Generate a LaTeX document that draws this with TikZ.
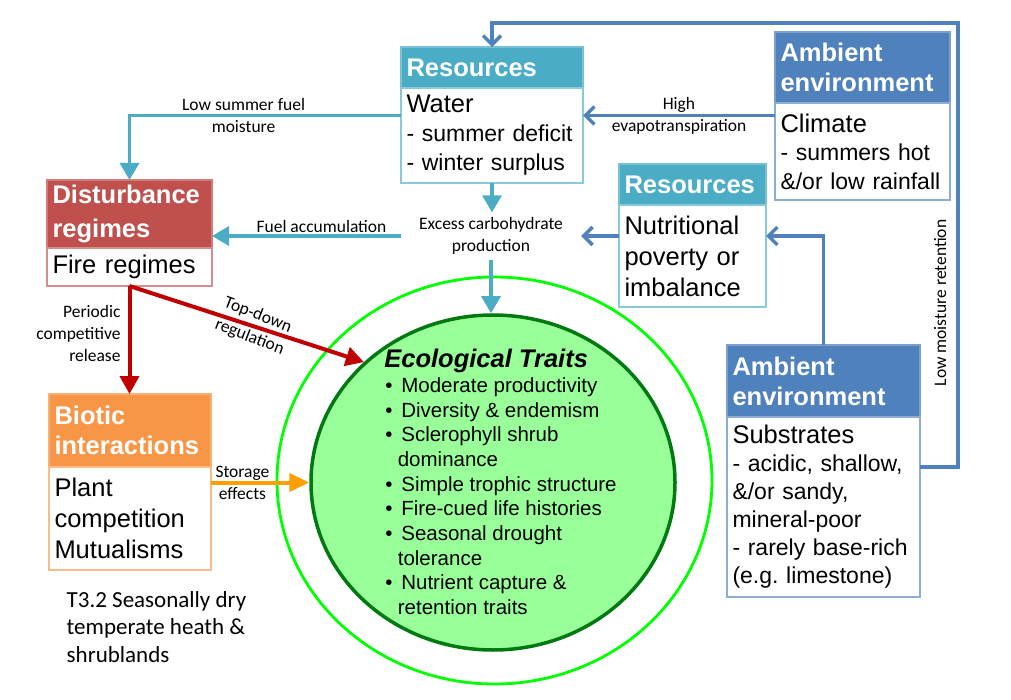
\documentclass[tikz,border=0pt]{standalone}
\usepackage{fontspec}
\setmainfont{Liberation Sans}
\newfontfamily\lblfont{Carlito}
\usetikzlibrary{arrows.meta,positioning,shapes.geometric}
\definecolor{resteal}{HTML}{4BACC6}
\definecolor{ambblue}{HTML}{4F81BD}
\definecolor{disred}{HTML}{C0504D}
\definecolor{bioorange}{HTML}{F79646}
\definecolor{arrred}{HTML}{C00000}
\definecolor{arrorange}{HTML}{FF9E00}
\definecolor{ringlime}{HTML}{00FF00}
\definecolor{traitgreen}{HTML}{99FF99}
\definecolor{traitedge}{HTML}{007A10}

\begin{document}
\begin{tikzpicture}[x=1pt,y=-1pt,
  hdr/.style={draw=#1!75!white,fill=#1,line width=1.2pt,outer sep=0pt,text=white,anchor=north west,
    align=left,inner xsep=5.5pt,inner ysep=4pt,font=\bfseries\fontsize{25.5}{30}\selectfont},
  body/.style={draw=#1!65!white,fill=white,line width=1.2pt,outer sep=0pt,align=left,
    inner xsep=5.5pt,inner ysep=4pt,font=\fontsize{25.5}{31}\selectfont},
  lbl/.style={font=\lblfont\fontsize{17.5}{22}\selectfont,align=center,inner sep=2pt},
  tealarr/.style={draw=resteal,line width=3.2pt,-{Triangle[length=17pt,width=19pt]}},
  bluearr/.style={draw=ambblue,line width=3.5pt,-{Straight Barb[length=9pt,width=18pt]}},
  redarr/.style={draw=arrred,line width=4pt,-{Triangle[length=18pt,width=19pt]}},
  orgarr/.style={draw=arrorange,line width=4pt,-{Triangle[length=20pt,width=18pt]}}
]
  \useasboundingbox (0,0) rectangle (1011,700);

  \node[hdr=resteal,text width=171pt,minimum height=41pt] (waterh) at (401,47) {Resources};
  \node[body=resteal,text width=171pt,minimum height=95pt,below=0pt of waterh,
    font=\fontsize{23}{29}\selectfont] (waterb)
    {{\fontsize{25.5}{29}\selectfont Water}\\- summer deficit\\- winter surplus};

  \node[hdr=ambblue,text width=164pt,minimum height=71pt] (climh) at (775,32) {Ambient\\environment};
  \node[body=ambblue,text width=164pt,minimum height=97pt,below=0pt of climh,
    font=\fontsize{23}{28.5}\selectfont] (climb)
    {{\fontsize{25.5}{28.5}\selectfont Climate}\\- summers hot\\\&/or low rainfall};

  \node[hdr=resteal,text width=136pt,minimum height=41pt] (nuth) at (619,164) {Resources};
  \node[body=resteal,text width=136pt,minimum height=102pt,below=0pt of nuth] (nutb)
    {Nutritional\\poverty or\\imbalance};

  \node[hdr=ambblue,text width=182pt,minimum height=72pt] (subh) at (727,345) {Ambient\\environment};
  \node[body=ambblue,text width=182pt,minimum height=180pt,below=0pt of subh,
    font=\fontsize{23}{28}\selectfont] (subb)
    {{\fontsize{25.5}{28}\selectfont Substrates}\\- acidic, shallow,\\\&/or sandy,\\mineral-poor\\- rarely base-rich\\(e.g.\ limestone)};

  \node[hdr=disred,text width=154pt,minimum height=68pt] (disth) at (47,180) {\vspace*{4pt}Disturbance\\regimes};
  \node[body=disred,text width=154pt,minimum height=38pt,below=0pt of disth] (distb) {Fire regimes};

  \node[hdr=bioorange,text width=151pt,minimum height=73pt] (biotich) at (49,394) {Biotic\\interactions};
  \node[body=bioorange,text width=151pt,minimum height=103pt,below=0pt of biotich] (bioticb)
    {Plant\\competition\\Mutualisms};

  \node[lbl,minimum width=180pt,inner ysep=5pt] (excess) at (491,236) {Excess carbohydrate\\production};

  \node[ellipse,draw=ringlime,line width=2.8pt,minimum width=435pt,minimum height=407pt] (ring) at (494.5,480.5) {};
  \node[ellipse,draw=traitedge,fill=traitgreen,line width=3.5pt,minimum width=364pt,minimum height=335pt] (traits) at (493,482.5) {};
  \node[align=left,inner sep=0pt,font=\fontsize{20.5}{24.7}\selectfont] (traitlist) at (500.5,482)
    {{\fontsize{25.5}{24.7}\selectfont\bfseries\itshape Ecological Traits}\\
     \makebox[17pt][l]{\hspace{1pt}\textbullet}Moderate productivity\\
     \makebox[17pt][l]{\hspace{1pt}\textbullet}Diversity \& endemism\\
     \makebox[17pt][l]{\hspace{1pt}\textbullet}Sclerophyll shrub\\
     \hspace*{13.5pt}dominance\\
     \makebox[17pt][l]{\hspace{1pt}\textbullet}Simple trophic structure\\
     \makebox[17pt][l]{\hspace{1pt}\textbullet}Fire-cued life histories\\
     \makebox[17pt][l]{\hspace{1pt}\textbullet}Seasonal drought\\
     \hspace*{13.5pt}tolerance\\
     \makebox[17pt][l]{\hspace{1pt}\textbullet}Nutrient capture \&\\
     \hspace*{13.5pt}retention traits};

  \node[lbl,rotate=90] (lowmoist) at (940,303) {Low moisture retention};
  \node[anchor=north west,align=left,inner sep=0pt,font=\lblfont\fontsize{23}{27.5}\selectfont] (title) at (66.5,591)
    {T3.2 Seasonally dry\\temperate heath \&\\shrublands};

  \coordinate (wl) at ([yshift=20pt]waterb.west);
  \coordinate (wr) at ([yshift=20pt]waterb.east);
  \coordinate (sr) at ([yshift=40pt]subb.east);
  \coordinate (fb) at (958,23);

  \draw[tealarr] (wl) -| node[lbl,pos=0.29] {Low summer fuel\\moisture} (disth.north);
  \draw[tealarr] (waterb.south) -- (waterb.south |- excess.north);
  \draw[tealarr] (excess.west) -- node[lbl,above,pos=0.42] {Fuel accumulation} (excess.west -| disth.east);
  \draw[tealarr] (excess.south) -- (excess.south |- traits.north);

  \draw[bluearr] (wr -| climb.west) -- node[lbl] {High\\evapotranspiration} (wr);
  \draw[bluearr] (excess.east -| nutb.west) -- (excess.east);
  \draw[bluearr] (subh.north) |- (excess.east -| nutb.east);
  \draw[bluearr] (sr) -| (fb) -| (waterh.north);

  \draw[redarr] (distb.south) -- node[lbl,left=5pt,align=right,pos=0.44] {Periodic\\competitive\\release} (distb.south |- biotich.north);
  \draw[redarr] (distb.south) -- node[lbl,rotate=-21,pos=0.53,font=\lblfont\fontsize{17.5}{23.5}\selectfont] {Top-down\\regulation} (traits.137);

  \draw[orgarr] (traits.west -| bioticb.east) -- node[lbl,pos=0.32] {Storage\\effects} (traits.west);
\end{tikzpicture}
\end{document}
